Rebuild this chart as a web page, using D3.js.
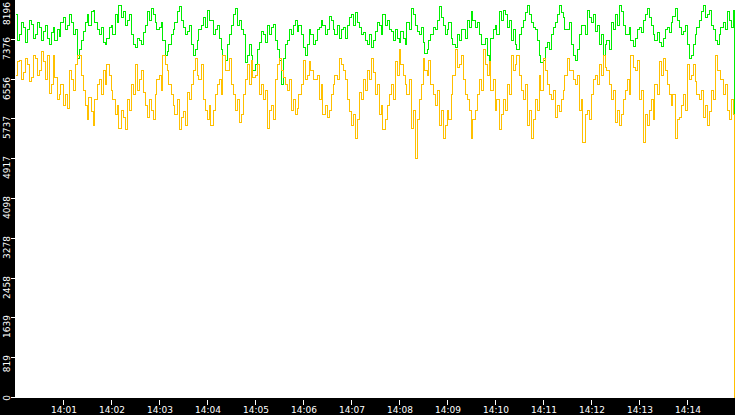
<!DOCTYPE html>
<html>
<head>
<meta charset="utf-8">
<script src="https://cdn.jsdelivr.net/npm/d3@7"></script>
<style>
html, body { margin: 0; padding: 0; background: #000; }
svg { display: block; }
.tick-label { fill: #fff; font-family: "DejaVu Sans", sans-serif; font-size: 9px; }
</style>
</head>
<body>
<svg width="735" height="415"></svg>
<script>
// one sample every 2.5 seconds from 14:00:00
var startTime = new Date(2020, 0, 1, 14, 0, 0),
	endTime = new Date(2020, 0, 1, 14, 15, 0),
	stepMs = 2500;

var greenValues = [
	7890,7370, 7480,7740, 7620,7330, 7580,7780, 7700,7410, 7480,7740, 7640,7370, 7540,7680,
	7410,7270, 7520,7620, 7370,7580, 7450,7740, 7830,7580, 7680,7890, 7740,7480, 7580,7000,
	7170,7370, 7540,7740, 7890,7680, 7950,7990, 7740,7580, 7480,7620, 7330,7270, 7410,7620,
	7680,7480, 7890,7740, 8090,7830, 7950,7680, 7780,7890, 7480,7270, 7210,7410, 7370,7270,
	7520,7680, 7950,7780, 8030,7890, 7740,7580, 7620,7740, 7370,7060, 7130,7270, 7480,7580,
	7740,7950, 8070,7780, 7620,7480, 7540,7680, 7270,7060, 7170,7370, 7580,7680, 7830,7620,
	7990,7780, 7780,7480, 7580,7680, 7410,7170, 7060,6960, 7270,7480, 7680,7890, 8030,7680,
	7780,7580, 7480,6900, 7060,7270, 7060,6750, 6860,7170, 7330,7540, 7480,7330, 7680,7480,
	7620,7700, 7370,7170, 6960,6450, 7000,7270, 7370,7580, 7480,7680, 7780,7540, 7680,7480,
	7210,7060, 7270,7580, 7480,7270, 7370,7580, 7620,7780, 7680,7480, 7580,7850, 7780,7580,
	7480,7680, 7410,7580, 7620,7410, 7680,7830, 7890,7680, 7930,7740, 7620,7480, 7520,7370,
	7270,7480, 7210,7370, 7540,7740, 7680,7480, 7890,7680, 7780,7580, 7540,7370, 7580,7410,
	7330,7540, 7410,7270, 7740,7580, 8030,7890, 7680,7540, 7480,7620, 7330,7100, 7170,7370,
	7480,7620, 7580,7780, 8070,7830, 7680,7480, 7580,7740, 7410,7270, 7210,7480, 7370,7580,
	7580,7410, 7780,7620, 7950,7780, 7620,7740, 7480,7270, 7270,7410, 7060,6960, 7410,7580,
	7680,7480, 7950,7780, 7990,7890, 7620,7780, 7370,7580, 7270,7170, 7480,7620, 7780,7930,
	8090,7890, 7740,7640, 7580,7370, 7060,6900, 6960,7210, 7330,7170, 7480,7620, 7740,7890,
	8090,7930, 7830,7580, 7580,7740, 7270,7060, 6960,7170, 7480,7680, 7680,7480, 7990,7830,
	7740,7890, 7540,7680, 7270,7480, 7060,7270, 7370,7170, 7740,7580, 7890,7680, 8090,7950,
	7680,7480, 7480,7620, 7370,7230, 7410,7580, 7620,7520, 7780,7890, 8030,7830, 7680,7480,
	7370,7520, 7330,7230, 7410,7580, 7620,7520, 7740,7850, 8030,7780, 7620,7480, 7540,7680,
	7270,7000, 7060,7270, 7480,7620, 7780,7950, 8090,7830, 7890,7990, 7680,7580, 7370,7270,
	7480,7620, 7740,7580, 7950,7780, 7620,7990
];

var yellowValues = [
	6650,6920, 6960,6550, 6710,7000, 6860,6510, 6590,7060, 7000,6650, 6750,7130, 6920,6550,
	7060,6280, 6450,7060, 6590,6140, 6240,6450, 6030,6240, 5970,6750, 6550,6340, 6860,7060,
	7060,6650, 6340,6030, 5730,6180, 5890,5620, 6140,6450, 6550,6240, 6750,6450, 6860,6650,
	6340,6140, 5830,6030, 5560,5930, 5770,5520, 6140,5930, 6450,6240, 6860,6340, 6550,6750,
	6300,6030, 5770,6140, 5930,5730, 6240,6550, 6650,6340, 7060,6860, 6750,6450, 6240,6030,
	5830,6140, 5520,5770, 5890,5620, 6300,6140, 6450,6750, 7000,6650, 6550,6860, 6140,5930,
	5730,6030, 5620,5930, 6240,6450, 6550,6240, 7060,6750, 6750,7000, 6450,6240, 5930,6140,
	5680,5830, 6240,6550, 6860,6450, 6960,6590, 6650,6860, 6240,6450, 6140,6340, 5560,5930,
	6030,5730, 6550,6860, 7000,6750, 6590,6450, 6340,6550, 5930,6140, 5830,5970, 6240,6450,
	6960,6550, 6650,6920, 6750,6550, 6550,6650, 6140,6450, 5830,6030, 5770,5930, 6240,6450,
	6650,6550, 7000,6860, 6750,6550, 6140,5890, 5620,5830, 5350,5730, 6300,6140, 6550,6340,
	6750,6550, 7000,6710, 6240,6450, 5830,6030, 5520,5730, 6030,6240, 6450,6140, 6920,6650,
	7170,6860, 6650,6450, 6240,6550, 5560,5930, 4940,5730, 6140,6450, 7000,6750, 6650,6960,
	6450,6240, 6030,6340, 5620,5930, 5350,5620, 5930,5730, 6240,6650, 7170,6800, 6860,7060,
	6550,6240, 6140,5930, 5350,5730, 5930,6240, 6550,6340, 7170,6860, 6650,6920, 6340,6550,
	5930,6140, 5520,5830, 6140,5930, 6450,6240, 7060,6750, 6860,7060, 6650,6340, 6140,6450,
	5620,5930, 5350,5730, 6140,5930, 6650,6340, 7000,6750, 6450,6240, 6140,6340, 5770,6030,
	5890,6140, 6340,6650, 7000,6750, 6750,6550, 6450,6650, 5930,6140, 5270,5830, 5930,5730,
	6240,6550, 6650,6450, 6860,6650, 7060,6800, 6750,6450, 6140,6340, 5680,5930, 5620,5830,
	6140,6340, 6550,6240, 7060,6800, 6750,6960, 6140,6340, 5270,5830, 5620,5930, 6140,5730,
	6450,6240, 6920,6650, 7000,6750, 6450,6240, 6030,6240, 5350,5730, 5770,6030, 6240,5930,
	6860,6550, 6650,6860, 6510,6240, 6140,6340, 5770,6030, 5620,5890, 6340,6140, 7060,6750,
	6750,6550, 6240,6450, 5930,5730, 6140,5830
];

// the feed stops just before 14:15
var lastTime = new Date(2020, 0, 1, 14, 14, 58, 750),
	greenLast = 2700,
	yellowLast = 0;

var yTickValues = [0, 819, 1639, 2458, 3278, 4098, 4917, 5737, 6556, 7376, 8196];
var yMax = 8196;

var svg = d3.select("svg"),
	width = +svg.attr("width"),
	height = +svg.attr("height"),
	left = 15,
	bottom = 398;

function toSeries(values, last) {
	var pts = values.map(function(v, i) {
		return { t: new Date(startTime.getTime() + i * stepMs), v: v };
	});
	pts.push({ t: lastTime, v: last });
	return pts;
}

var green = toSeries(greenValues, greenLast),
	yellow = toSeries(yellowValues, yellowLast);

var x = d3.scaleTime()
	.domain([startTime, endTime])
	.range([left, width]);

var y = d3.scaleLinear()
	.domain([0, yMax])
	.range([bottom, 0]);

svg.append("rect")
	.attr("width", width)
	.attr("height", height)
	.attr("fill", "#000");

svg.append("rect")
	.attr("x", left)
	.attr("width", width - left)
	.attr("height", bottom)
	.attr("fill", "#fff");

var line = d3.line()
	.curve(d3.curveStepAfter)
	.x(function(d) { return Math.floor(x(d.t)) + 0.5; })
	.y(function(d) { return y(d.v); });

var plot = svg.append("g");

plot.append("path")
	.datum(green)
	.attr("d", line)
	.attr("fill", "none")
	.attr("stroke", "#00ee00")
	.attr("stroke-width", 1)
	.attr("shape-rendering", "crispEdges");

plot.append("path")
	.datum(yellow)
	.attr("d", line)
	.attr("fill", "none")
	.attr("stroke", "#ffc000")
	.attr("stroke-width", 1)
	.attr("shape-rendering", "crispEdges");

// y axis
var yTick = svg.append("g")
	.selectAll("g")
	.data(yTickValues)
	.enter().append("g");

yTick.append("line")
	.attr("x1", 11)
	.attr("x2", left)
	.attr("y1", function(d) { return Math.round(y(d)) - 0.5; })
	.attr("y2", function(d) { return Math.round(y(d)) - 0.5; })
	.attr("stroke", "#fff")
	.attr("shape-rendering", "crispEdges");

yTick.append("text")
	.attr("class", "tick-label")
	.attr("text-anchor", "end")
	.attr("transform", function(d) {
		var ty = Math.max(Math.round(y(d)) - 3, 2);
		return "translate(10," + ty + ") rotate(-90)";
	})
	.text(function(d) { return d; });

// x axis, one tick a minute
var xTicks = d3.timeMinute.range(new Date(2020, 0, 1, 14, 1, 0), endTime);
var fmt = d3.timeFormat("%H:%M");

var xTick = svg.append("g")
	.selectAll("g")
	.data(xTicks)
	.enter().append("g");

xTick.append("line")
	.attr("x1", function(d) { return Math.round(x(d)) + 0.5; })
	.attr("x2", function(d) { return Math.round(x(d)) + 0.5; })
	.attr("y1", 400)
	.attr("y2", 405)
	.attr("stroke", "#fff")
	.attr("shape-rendering", "crispEdges");

xTick.append("text")
	.attr("class", "tick-label")
	.attr("text-anchor", "middle")
	.attr("x", function(d) { return Math.round(x(d)) + 1; })
	.attr("y", 413)
	.text(function(d) { return fmt(d); });
</script>
</body>
</html>
